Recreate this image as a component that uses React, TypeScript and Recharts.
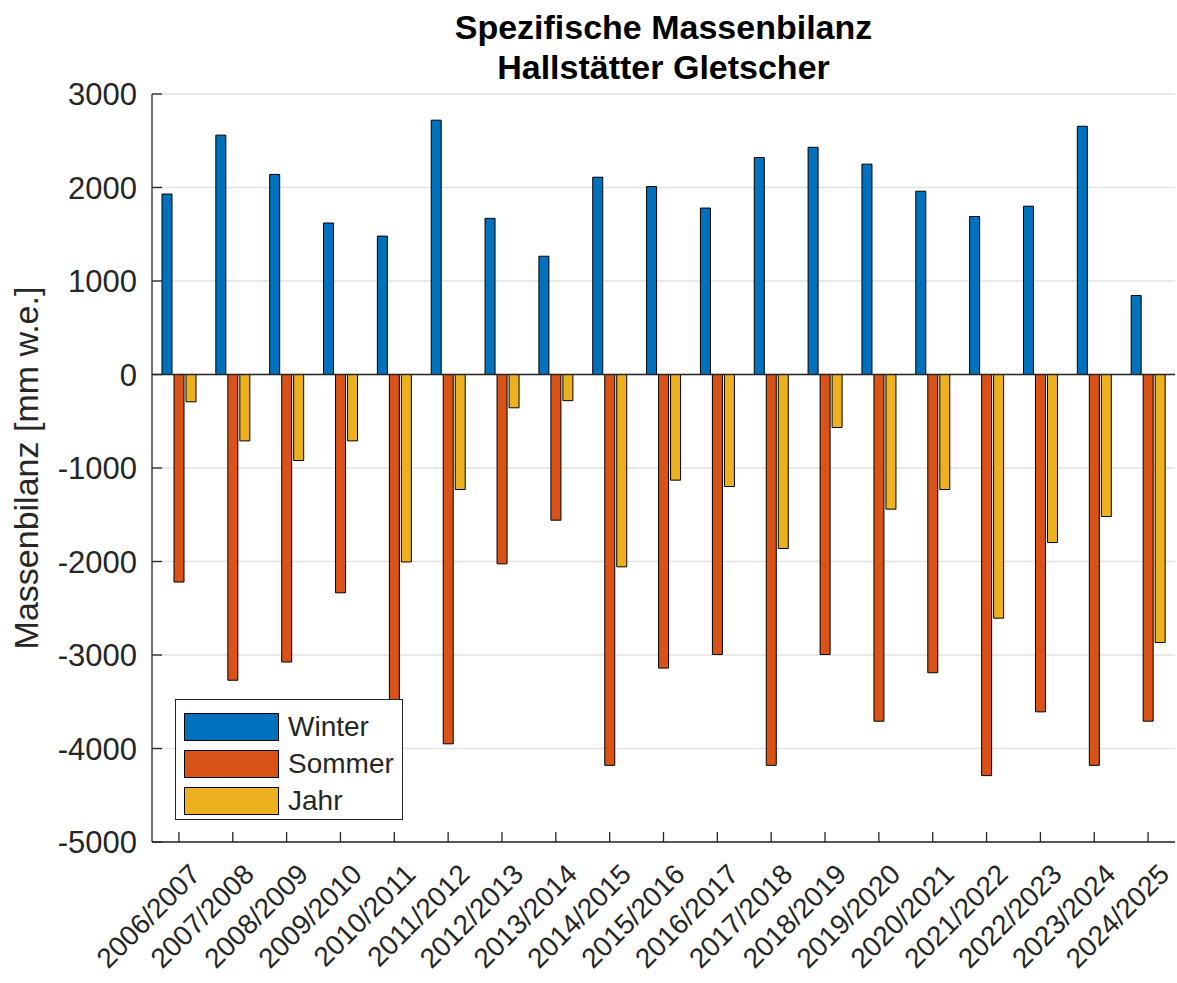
import React from 'react'
import {
  BarChart,
  Bar,
  XAxis,
  YAxis,
  CartesianGrid,
  Legend,
  ReferenceLine,
} from 'recharts'

const seasons = [
  '2006/2007', '2007/2008', '2008/2009', '2009/2010', '2010/2011',
  '2011/2012', '2012/2013', '2013/2014', '2014/2015', '2015/2016',
  '2016/2017', '2017/2018', '2018/2019', '2019/2020', '2020/2021',
  '2021/2022', '2022/2023', '2023/2024', '2024/2025',
]
const winter = [1930, 2560, 2140, 1620, 1480, 2720, 1670, 1265, 2110, 2010, 1780, 2320, 2430, 2250, 1960, 1690, 1800, 2655, 845]
const sommer = [-2220, -3270, -3075, -2335, -3490, -3950, -2025, -1558, -4180, -3140, -2995, -4180, -2995, -3708, -3190, -4290, -3608, -4180, -3708]
const jahr = [-292, -710, -920, -710, -2005, -1230, -356, -280, -2057, -1130, -1198, -1861, -567, -1440, -1230, -2606, -1797, -1519, -2866]
const yTicks = [-5000, -4000, -3000, -2000, -1000, 0, 1000, 2000, 3000]
const seriesNames = ['Winter', 'Sommer', 'Jahr']

const chartData = seasons.map((season, i) => ({
  season,
  winter: winter[i],
  sommer: sommer[i],
  jahr: jahr[i],
}))

const FONT = '"Liberation Sans", Arial, Helvetica, sans-serif'
const AXIS = '#262626'
const TICK = 10

// bottom axis: inward tick + rotated label
const XTick = ({ x, y, payload }: any) => {
  const ax = x + 9
  const ay = y + 20
  return (
    <g>
      <line x1={x} y1={y} x2={x} y2={y - TICK} stroke={AXIS} strokeWidth={1.3} />
      <text
        x={ax}
        y={ay}
        dy="0.71em"
        textAnchor="end"
        transform={`rotate(-45 ${ax} ${ay})`}
        fill={AXIS}
        fontSize={28}
        fontFamily={FONT}
      >
        {payload.value}
      </text>
    </g>
  )
}

const TopTick = ({ x, y }: any) => (
  <line x1={x} y1={y} x2={x} y2={y + TICK} stroke={AXIS} strokeWidth={1.3} />
)

const YTick = ({ x, y, payload }: any) => (
  <g>
    <line x1={x} y1={y} x2={x + TICK} y2={y} stroke={AXIS} strokeWidth={1.3} />
    <text
      x={x - 15}
      y={y}
      dy="0.36em"
      textAnchor="end"
      fill={AXIS}
      fontSize={31}
      fontFamily={FONT}
    >
      {payload.value}
    </text>
  </g>
)

const RightTick = ({ x, y }: any) => (
  <line x1={x} y1={y} x2={x - TICK} y2={y} stroke={AXIS} strokeWidth={1.3} />
)

const YLabel = ({ viewBox }: any) => {
  const cy = viewBox.y + viewBox.height / 2
  return (
    <text
      x={38}
      y={cy}
      textAnchor="middle"
      transform={`rotate(-90 38 ${cy})`}
      fill={AXIS}
      fontSize={34}
      fontFamily={FONT}
    >
      Massenbilanz [mm w.e.]
    </text>
  )
}

const LegendBox = ({ payload }: any) => {
  const items = [...(payload || [])].sort(
    (a: any, b: any) => seriesNames.indexOf(a.value) - seriesNames.indexOf(b.value)
  )
  return (
    <div
      style={{
        boxSizing: 'border-box',
        width: 228,
        height: 121,
        border: `1.3px solid ${AXIS}`,
        background: '#fff',
        padding: '8px 0 0 8px',
        fontFamily: FONT,
        fontSize: 28,
        color: AXIS,
      }}
    >
      {items.map((p: any) => (
        <div key={p.value} style={{ display: 'flex', alignItems: 'center', height: 37 }}>
          <div
            style={{
              boxSizing: 'border-box',
              width: 95,
              height: 28,
              background: p.color,
              border: '1px solid #000',
              marginRight: 9,
            }}
          />
          <span style={{ lineHeight: '28px' }}>{p.value}</span>
        </div>
      ))}
    </div>
  )
}

export default function App() {
  return (
    <div style={{ position: 'absolute', left: 0, top: 0, width: 1177, height: 983, background: '#fff' }}>
      <div
        style={{
          position: 'absolute',
          left: 152,
          top: 7,
          width: 1023,
          textAlign: 'center',
          fontFamily: FONT,
          fontWeight: 'bold',
          fontSize: 34,
          lineHeight: '40px',
          color: '#000',
          zIndex: 2,
        }}
      >
        <div>Spezifische Massenbilanz</div>
        <div>Hallstätter Gletscher</div>
      </div>
      <BarChart
        width={1177}
        height={983}
        data={chartData}
        margin={{ top: 94, right: 2, left: 0, bottom: 0 }}
        barSize={10}
        barGap={2}
      >
        <CartesianGrid horizontal vertical={false} stroke="#e2e2e2" strokeWidth={1.3} />
        <XAxis
          dataKey="season"
          interval={0}
          height={141}
          tickSize={0}
          tickMargin={0}
          tickLine={false}
          axisLine={{ stroke: AXIS, strokeWidth: 1.3 }}
          tick={<XTick />}
        />
        <XAxis
          xAxisId="top"
          dataKey="season"
          orientation="top"
          interval={0}
          height={0}
          tickSize={0}
          tickMargin={0}
          tickLine={false}
          axisLine={{ stroke: AXIS, strokeWidth: 1.3 }}
          tick={<TopTick />}
        />
        <YAxis
          type="number"
          domain={[-5000, 3000]}
          ticks={yTicks}
          interval={0}
          width={152}
          tickSize={0}
          tickMargin={0}
          tickLine={false}
          axisLine={{ stroke: AXIS, strokeWidth: 1.3 }}
          tick={<YTick />}
          label={<YLabel />}
        />
        <YAxis
          yAxisId="right"
          orientation="right"
          type="number"
          domain={[-5000, 3000]}
          ticks={yTicks}
          interval={0}
          width={0}
          tickSize={0}
          tickMargin={0}
          tickLine={false}
          axisLine={{ stroke: AXIS, strokeWidth: 1.3 }}
          tick={<RightTick />}
        />
        <Legend
          layout="vertical"
          align="center"
          verticalAlign="middle"
          wrapperStyle={{ left: 175, top: 699, width: 228, height: 121 }}
          content={<LegendBox />}
        />
        <Bar dataKey="winter" name="Winter" fill="#0072BD" stroke="#000" strokeWidth={1} isAnimationActive={false} />
        <Bar dataKey="sommer" name="Sommer" fill="#D95319" stroke="#000" strokeWidth={1} isAnimationActive={false} />
        <Bar dataKey="jahr" name="Jahr" fill="#EDB120" stroke="#000" strokeWidth={1} isAnimationActive={false} />
        <ReferenceLine y={0} stroke={AXIS} strokeWidth={1.3} />
      </BarChart>
    </div>
  )
}
